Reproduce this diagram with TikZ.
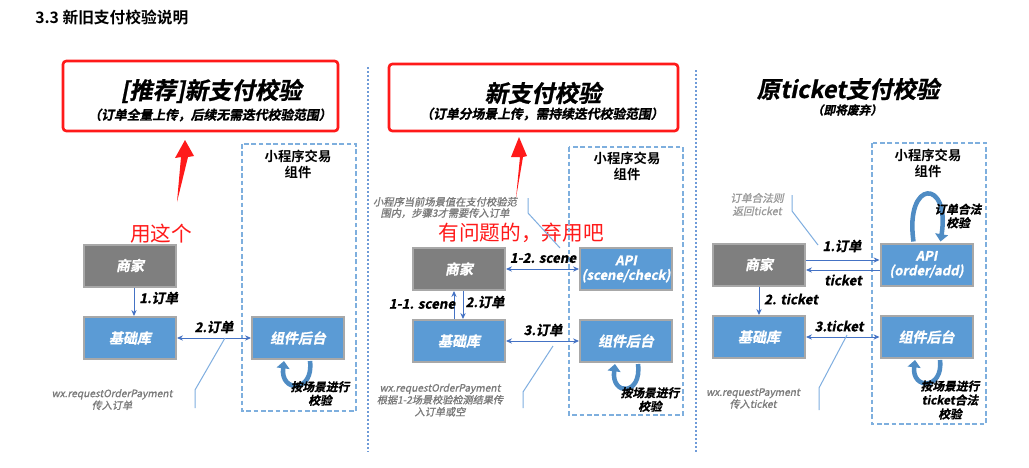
\documentclass[tikz,border=0pt]{standalone}
\usepackage{fontspec}
\setmainfont{Noto Sans CJK SC}
\newfontfamily\fbi{Noto Sans CJK SC Bold}[FakeBold=1, FakeSlant=0.2]
\newfontfamily\fb{Noto Sans CJK SC Bold}
\newfontfamily\fnote{Noto Sans CJK SC}[FakeBold=1.2, FakeSlant=0.2]
\usetikzlibrary{arrows.meta,calc}
\definecolor{boxblue}{HTML}{5B9BD5}
\definecolor{boxgray}{HTML}{7F7F7F}
\definecolor{boxedge}{HTML}{A8A8A8}
\definecolor{arrblue}{HTML}{4472C4}
\definecolor{lineblue}{HTML}{7FAEE0}
\definecolor{grpblue}{HTML}{7EAFDE}
\definecolor{divblue}{HTML}{6F9BD8}
\definecolor{notegray}{HTML}{7A7A7A}
\definecolor{loopblue}{HTML}{4F8CC4}
\definecolor{redc}{HTML}{FF1A1A}
\tikzset{
  box/.style={draw=boxedge, line width=1.5pt, minimum width=69pt, minimum height=31.5pt, inner sep=0pt, text=white, align=center, font=\fbi\fontsize{10.5}{11}\selectfont},
  bbox/.style={box, fill=boxblue},
  gbox/.style={box, fill=boxgray},
  arr/.style={draw=arrblue, line width=0.75pt, -{Stealth[length=4.5pt,width=4pt]}},
  darr/.style={draw=arrblue, line width=0.75pt, {Stealth[length=4.5pt,width=4pt]}-{Stealth[length=4.5pt,width=4pt]}},
  lbl/.style={font=\fbi\fontsize{10}{12}\selectfont, text=black, inner sep=0pt},
  note/.style={font=\fnote\fontsize{7.6}{9}\selectfont, text=notegray, align=center, inner sep=0pt},
  call/.style={draw=lineblue, line width=0.75pt},
  grp/.style={draw=grpblue, dash pattern=on 3.5pt off 2pt, line width=0.8pt},
  grptitle/.style={font=\fb\fontsize{10}{12}\selectfont, align=center, inner sep=0pt},
  divl/.style={draw=divblue, dash pattern=on 1.5pt off 1.5pt, line width=0.8pt},
  looparr/.style={draw=loopblue, line width=3.4pt, -{Triangle[length=5.5pt,width=9.5pt]}},
  redbox/.style={draw=redc, line width=2pt, rounded corners=2.5pt},
  redtxt/.style={text=redc, font=\fontsize{15.5}{18}\selectfont, inner sep=0pt},
  ttl/.style={font=\fbi\fontsize{17.5}{20}\selectfont, inner sep=0pt},
  subttl/.style={font=\fbi\fontsize{9.6}{11}\selectfont, inner sep=0pt},
  cmt/.style={font=\fbi\fontsize{8.8}{10.2}\selectfont, align=center, inner sep=0pt},
}
\begin{document}
\begin{tikzpicture}[x=0.75pt, y=-0.75pt]
\fill[white] (0,0) rectangle (1029,468);
\useasboundingbox (0,0) rectangle (1029,468);

\node[anchor=west, font=\fb\fontsize{11.8}{13}\selectfont, inner sep=0pt] (title) at (35,17) {3.3 新旧支付校验说明};

% dividers
\coordinate (d1a) at (368,67); \coordinate (d1b) at (368,452);
\coordinate (d2a) at (696,70); \coordinate (d2b) at (696,453);
\draw[divl] (d1a) -- (d1b);
\draw[divl] (d2a) -- (d2b);

%%%%%%%% LEFT PANEL
\draw[redbox] (63,61) rectangle (338,131);
\node[ttl] (t1) at (211,91) {[推荐]新支付校验};
\node[subttl] (s1) at (210,115) {（订单全量上传，后续无需迭代校验范围）};
\fill[redc] (177,202) -- (181,157) -- (175,158) -- (185,140) -- (194,156) -- (188,157) -- cycle;
\node[redtxt] (u1) at (161,234) {用这个};

\draw[grp] (242,144) rectangle (356,411);
\node[grptitle] (g1) at (298,164) {小程序交易\\组件};

\node[gbox] (m1) at (130,265.5) {商家};
\node[bbox] (j1) at (130,338) {基础库};
\node[bbox] (c1) at (298,338) {组件后台};

\draw[arr] ($(m1.south)+(4,0)$) -- ($(j1.north)+(4,0)$);
\node[lbl, anchor=west] (l11) at (139,298) {1.订单};
\draw[darr] (j1.east) -- (c1.west);
\node[lbl] (l12) at (214,327) {2.订单};

\draw[looparr] ($(c1.south)+(12,1)$) .. controls ($(c1.south)+(16,33)$) and ($(c1.south)+(-18,33)$) .. ($(c1.south)+(-14,1)$);
\node[cmt] (k1) at (320,393.5) {按场景进行\\校验};

\coordinate (p1a) at (225,338); \coordinate (p1b) at (195,390); \coordinate (p1c) at (195,408);
\draw[call] (p1a) -- (p1b) -- (p1c);
\node[note] (n1) at (112,399.5) {wx.requestOrderPayment\\传入订单};

%%%%%%%% MIDDLE PANEL
\draw[redbox] (389,64) rectangle (678,131);
\node[ttl] (t2) at (543,93) {新支付校验};
\node[subttl] (s2) at (542,114) {（订单分场景上传，需持续迭代校验范围）};
\fill[redc] (516,198) -- (520,157) -- (511,157) -- (519,137) -- (527,156) -- (523,157) -- cycle;
\node[redtxt] (u2) at (521,233) {有问题的，弃用吧};

\node[note, font=\fnote\fontsize{7.7}{8.4}\selectfont] (n2a) at (445,207.5) {小程序当前场景值在支付校验范\\围内，步骤3才需要传入订单};
\coordinate (p2a) at (528,198); \coordinate (p2b) at (528,213); \coordinate (p2c) at (560,248);
\draw[call] (p2a) -- (p2b) -- (p2c);

\draw[grp] (569,147) rectangle (683,415);
\node[grptitle] (g2) at (627,166) {小程序交易\\组件};

\node[gbox] (m2) at (459,269) {商家};
\node[bbox, font=\fbi\fontsize{9.8}{11}\selectfont] (a2) at (626,269) {API\\(scene/check)};
\node[bbox] (j2) at (459,341) {基础库};
\node[bbox] (c2) at (626,341) {组件后台};

\draw[darr] (m2.east) -- (a2.west);
\node[lbl] (l21) at (543,258) {1-2. scene};
\draw[arr] ($(j2.north)+(-5,0)$) -- ($(m2.south)+(-5,0)$);
\draw[arr] ($(m2.south)+(4,0)$) -- ($(j2.north)+(4,0)$);
\node[lbl] (l22) at (422,304) {1-1. scene};
\node[lbl] (l23) at (485,302) {2.订单};
\draw[darr] (j2.east) -- (c2.west);
\node[lbl] (l24) at (543,330) {3.订单};

\draw[looparr] ($(c2.south)+(12,1)$) .. controls ($(c2.south)+(16,33)$) and ($(c2.south)+(-15,33)$) .. ($(c2.south)+(-11,1)$);
\node[cmt] (k2) at (650,399.5) {按场景进行\\校验};

\coordinate (p3a) at (553,346); \coordinate (p3b) at (523,392); \coordinate (p3c) at (523,408);
\draw[call] (p3a) -- (p3b) -- (p3c);
\node[note] (n2) at (440,400) {wx.requestOrderPayment\\根据1-2场景校验检测结果传\\入订单或空};

%%%%%%%% RIGHT PANEL
\node[ttl] (t3) at (848,89) {原ticket支付校验};
\node[subttl, font=\fbi\fontsize{8.8}{10}\selectfont] (s3) at (847,110) {（即将废弃）};

\draw[grp] (872,143) rectangle (986,424);
\node[grptitle] (g3) at (928,163.5) {小程序交易\\组件};

\node[note, font=\fnote\fontsize{8}{9.8}\selectfont, text=notegray!75] (n3a) at (757,204.5) {订单合法则\\返回ticket};
\coordinate (p4a) at (792,195); \coordinate (p4b) at (792,211); \coordinate (p4c) at (818,245);
\draw[call] (p4a) -- (p4b) -- (p4c);

\node[gbox] (m3) at (759,264.5) {商家};
\node[bbox, font=\fbi\fontsize{9.8}{11}\selectfont] (a3) at (926.5,264.5) {API\\(order/add)};
\node[bbox] (j3) at (759,337) {基础库};
\node[bbox] (c3) at (926.5,337) {组件后台};

\draw[arr] ($(m3.east)+(0,-4.5)$) -- ($(a3.west)+(0,-4.5)$);
\draw[arr] ($(a3.west)+(0,5.5)$) -- ($(m3.east)+(0,5.5)$);
\node[lbl] (l31) at (842,246) {1.订单};
\node[lbl] (l32) at (843,280) {ticket};

\draw[looparr] ($(a3.north)+(-13,-1)$) .. controls ($(a3.north)+(-22,-64)$) and ($(a3.north)+(24,-64)$) .. ($(a3.north)+(14,-1)$);
\node[cmt] (k3a) at (958,216) {订单合法\\校验};

\draw[arr] (m3.south) -- (j3.north);
\node[lbl] (l33) at (791,299) {2. ticket};
\draw[darr] (j3.east) -- (c3.west);
\node[lbl] (l34) at (839,326) {3.ticket};

\draw[looparr] ($(c3.south)+(13.5,1)$) .. controls ($(c3.south)+(17,31)$) and ($(c3.south)+(-15,31)$) .. ($(c3.south)+(-11.5,1)$);
\node[cmt, font=\fbi\fontsize{8.8}{10.5}\selectfont] (k3) at (950,400) {按场景进行\\ticket合法\\校验};

\coordinate (p5a) at (847,335); \coordinate (p5b) at (819,388); \coordinate (p5c) at (819,410);
\draw[call] (p5a) -- (p5b) -- (p5c);
\node[note] (n3) at (753,398.5) {wx.requestPayment\\传入ticket};
\end{tikzpicture}
\end{document}
